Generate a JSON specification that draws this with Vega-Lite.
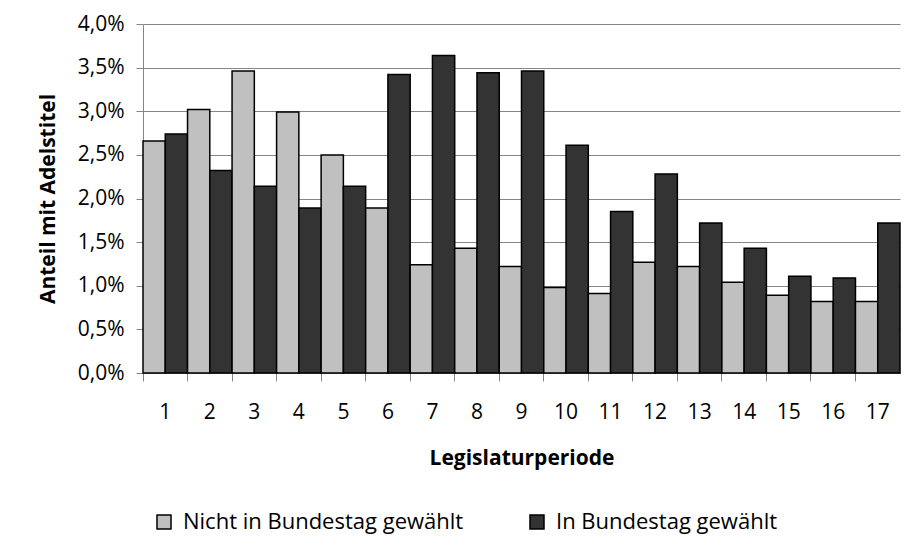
{
  "$schema": "https://vega.github.io/schema/vega-lite/v6.json",
  "width": 757,
  "height": 349,
  "autosize": {"type": "none"},
  "padding": {"left": 143, "top": 24, "right": 22, "bottom": 176},
  "background": "white",
  "config": {
    "font": "Open Sans",
    "view": {"stroke": null},
    "axis": {"labelFont": "Open Sans", "titleFont": "Open Sans", "labelColor": "#000000", "titleColor": "#000000"},
    "legend": {"labelFont": "Open Sans"}
  },
  "data": {
    "values": [
      {"periode": 1, "serie": "Nicht in Bundestag gewählt", "anteil": 0.0266},
      {"periode": 1, "serie": "In Bundestag gewählt", "anteil": 0.0274},
      {"periode": 2, "serie": "Nicht in Bundestag gewählt", "anteil": 0.0302},
      {"periode": 2, "serie": "In Bundestag gewählt", "anteil": 0.0232},
      {"periode": 3, "serie": "Nicht in Bundestag gewählt", "anteil": 0.0346},
      {"periode": 3, "serie": "In Bundestag gewählt", "anteil": 0.0214},
      {"periode": 4, "serie": "Nicht in Bundestag gewählt", "anteil": 0.0299},
      {"periode": 4, "serie": "In Bundestag gewählt", "anteil": 0.0189},
      {"periode": 5, "serie": "Nicht in Bundestag gewählt", "anteil": 0.025},
      {"periode": 5, "serie": "In Bundestag gewählt", "anteil": 0.0214},
      {"periode": 6, "serie": "Nicht in Bundestag gewählt", "anteil": 0.0189},
      {"periode": 6, "serie": "In Bundestag gewählt", "anteil": 0.0342},
      {"periode": 7, "serie": "Nicht in Bundestag gewählt", "anteil": 0.0124},
      {"periode": 7, "serie": "In Bundestag gewählt", "anteil": 0.0364},
      {"periode": 8, "serie": "Nicht in Bundestag gewählt", "anteil": 0.0143},
      {"periode": 8, "serie": "In Bundestag gewählt", "anteil": 0.0344},
      {"periode": 9, "serie": "Nicht in Bundestag gewählt", "anteil": 0.0122},
      {"periode": 9, "serie": "In Bundestag gewählt", "anteil": 0.0346},
      {"periode": 10, "serie": "Nicht in Bundestag gewählt", "anteil": 0.0098},
      {"periode": 10, "serie": "In Bundestag gewählt", "anteil": 0.0261},
      {"periode": 11, "serie": "Nicht in Bundestag gewählt", "anteil": 0.0091},
      {"periode": 11, "serie": "In Bundestag gewählt", "anteil": 0.0185},
      {"periode": 12, "serie": "Nicht in Bundestag gewählt", "anteil": 0.0127},
      {"periode": 12, "serie": "In Bundestag gewählt", "anteil": 0.0228},
      {"periode": 13, "serie": "Nicht in Bundestag gewählt", "anteil": 0.0122},
      {"periode": 13, "serie": "In Bundestag gewählt", "anteil": 0.0172},
      {"periode": 14, "serie": "Nicht in Bundestag gewählt", "anteil": 0.0104},
      {"periode": 14, "serie": "In Bundestag gewählt", "anteil": 0.0143},
      {"periode": 15, "serie": "Nicht in Bundestag gewählt", "anteil": 0.0089},
      {"periode": 15, "serie": "In Bundestag gewählt", "anteil": 0.0111},
      {"periode": 16, "serie": "Nicht in Bundestag gewählt", "anteil": 0.0082},
      {"periode": 16, "serie": "In Bundestag gewählt", "anteil": 0.0109},
      {"periode": 17, "serie": "Nicht in Bundestag gewählt", "anteil": 0.0082},
      {"periode": 17, "serie": "In Bundestag gewählt", "anteil": 0.0172}
    ]
  },
  "mark": {"type": "bar", "stroke": "#000000", "strokeWidth": 1.5},
  "encoding": {
    "x": {
      "field": "periode",
      "type": "ordinal",
      "scale": {"paddingInner": 0, "paddingOuter": 0},
      "axis": {
        "title": "Legislaturperiode",
        "labelAngle": 0,
        "labelFontSize": 21,
        "labelPadding": 20,
        "tickSize": 8,
        "tickColor": "#868686",
        "domainColor": "#868686",
        "bandPosition": 0,
        "titleFontSize": 21,
        "titleFontWeight": "bold",
        "titlePadding": 25
      }
    },
    "xOffset": {
      "field": "serie",
      "type": "nominal",
      "sort": ["Nicht in Bundestag gewählt", "In Bundestag gewählt"],
      "scale": {"paddingInner": 0, "paddingOuter": 0}
    },
    "y": {
      "field": "anteil",
      "type": "quantitative",
      "scale": {"domain": [0, 0.04], "nice": false},
      "axis": {
        "title": "Anteil mit Adelstitel",
        "values": [0, 0.005, 0.01, 0.015, 0.02, 0.025, 0.03, 0.035, 0.04],
        "labelExpr": "replace(format(datum.value, '.1%'), '.', ',')",
        "labelFontSize": 21,
        "labelPadding": 12,
        "tickSize": 7,
        "tickColor": "#868686",
        "domainColor": "#868686",
        "gridColor": "#868686",
        "gridWidth": 1,
        "titleFontSize": 21,
        "titleFontWeight": "bold",
        "titlePadding": 19
      }
    },
    "color": {
      "field": "serie",
      "type": "nominal",
      "sort": ["Nicht in Bundestag gewählt", "In Bundestag gewählt"],
      "scale": {"domain": ["Nicht in Bundestag gewählt", "In Bundestag gewählt"], "range": ["#c0c0c0", "#333333"]},
      "legend": {
        "title": null,
        "orient": "none",
        "legendX": 10,
        "legendY": 487,
        "direction": "horizontal",
        "symbolType": "square",
        "symbolSize": 196,
        "symbolStrokeColor": "#000000",
        "symbolStrokeWidth": 1.5,
        "labelFontSize": 22,
        "labelOffset": 8,
        "columnPadding": 62,
        "labelLimit": 400
      }
    }
  }
}
